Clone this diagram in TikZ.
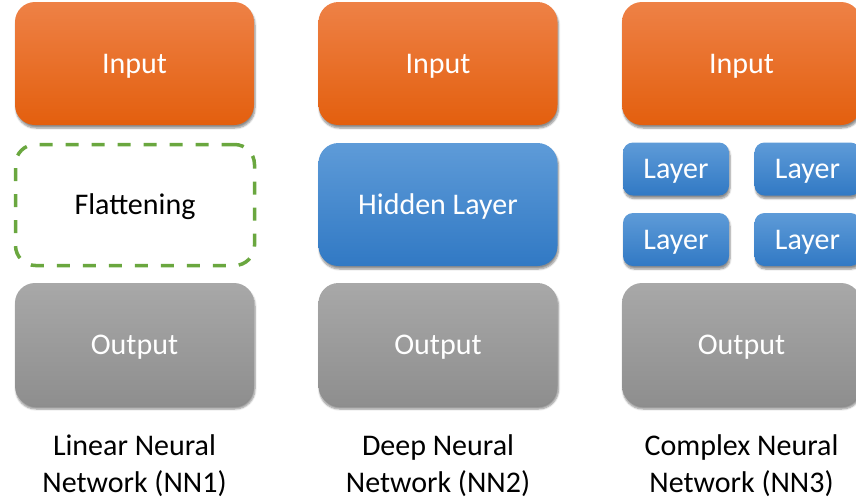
\documentclass[tikz,border=0pt]{standalone}
\usepackage{fontspec}
\setmainfont{Carlito}
\usetikzlibrary{shadows.blur}

\definecolor{orangetop}{HTML}{EE8146}
\definecolor{orangebot}{HTML}{E35F0E}
\definecolor{bluetop}{HTML}{5E9BD8}
\definecolor{bluebot}{HTML}{3179C4}
\definecolor{graytop}{HTML}{A8A8A8}
\definecolor{graybot}{HTML}{8E8E8E}
\definecolor{flatgreen}{HTML}{6AA73F}

\tikzset{
	box/.style={rounded corners=20pt, minimum width=239pt, minimum height=123pt,
		inner sep=0pt, text=white, font=\fontsize{30}{37}\selectfont,
		text height=19.5pt, text depth=0pt,
		blur shadow={shadow xshift=1pt, shadow yshift=-3pt, shadow blur steps=6, shadow opacity=45}},
	inbox/.style={box, top color=orangetop, bottom color=orangebot},
	hidbox/.style={box, top color=bluetop, bottom color=bluebot},
	outbox/.style={box, top color=graytop, bottom color=graybot},
	layerbox/.style={hidbox, rounded corners=10pt, minimum width=106pt, minimum height=53pt},
	flatbox/.style={rounded corners=20pt, minimum width=239pt, minimum height=121pt,
		draw=flatgreen, line width=3.5pt, dash pattern=on 13pt off 13pt,
		text height=19.5pt, text depth=0pt,
		font=\fontsize{30}{37}\selectfont},
	netlabel/.style={align=center, font=\fontsize{30}{37}\selectfont}
}

\begin{document}
\begin{tikzpicture}[x=1pt, y=-1pt]
	\useasboundingbox (0,0) rectangle (856,499);
	\clip (0,0) rectangle (856,499);

	% inputs and outputs
	\foreach \x/\n in {134.5/1, 438/2, 741.5/3}{
		\node[inbox] (in\n) at (\x,63.5) {Input};
		\node[outbox] (out\n) at (\x,344.5) {Output};
	}

	% middle row
	\node[flatbox] (flat) at (135,205) {Flattening};
	\node[hidbox] (hidden) at (438,204.5) {Hidden Layer};

	\node[layerbox] (layer1) at (676,169) {Layer};
	\node[layerbox] (layer2) at (807.5,169) {Layer};
	\node[layerbox] (layer3) at (676,239.5) {Layer};
	\node[layerbox] (layer4) at (807.5,239.5) {Layer};

	% captions
	\node[netlabel] (cap1) at (134.5,466) {Linear Neural\\Network (NN1)};
	\node[netlabel] (cap2) at (438,466) {Deep Neural\\Network (NN2)};
	\node[netlabel] (cap3) at (741.5,466) {Complex Neural\\Network (NN3)};

\end{tikzpicture}
\end{document}
